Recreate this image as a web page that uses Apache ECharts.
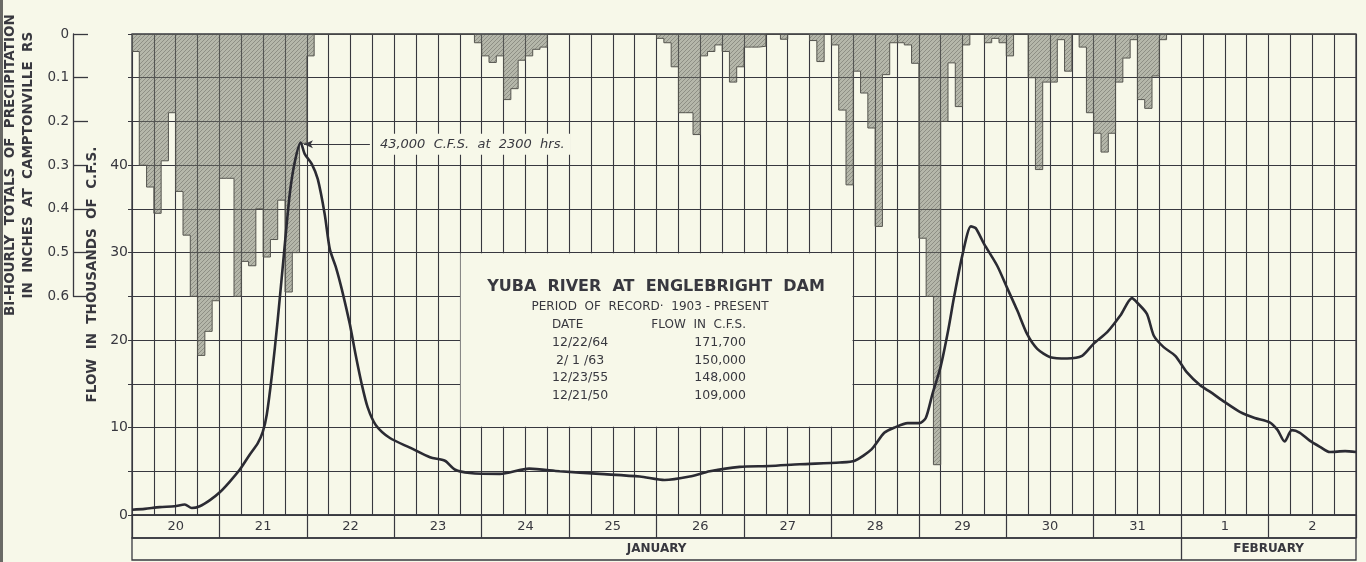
<!DOCTYPE html>
<html>
<head>
<meta charset="utf-8">
<script src="https://cdn.jsdelivr.net/npm/echarts@6/dist/echarts.min.js"></script>
<style>
  html, body { margin: 0; padding: 0; background: #f7f8e9; }
  #main { width: 1366px; height: 562px; }
</style>
</head>
<body>
<div id="main"></div>
<script>
// day cells under the plot
const dayLabels = ['20', '21', '22', '23', '24', '25', '26', '27', '28', '29', '30', '31', '1', '2']
const monthLabels = ['JANUARY', 'FEBRUARY']

// flow, thousands of c.f.s., hours counted from Jan 20 00:00
const flowHours = [0, 3.5, 7.6, 11.7, 14.5, 16.4, 18.6, 21.4, 24.1, 26.8,
  29.6, 32.3, 34.5, 35.9, 37, 38.4, 40, 41.7, 43.3, 44.7,
  46.3, 47.4, 49.4, 51, 52.9, 54.3, 56, 57.6, 59.8, 61.4,
  63.1, 64.7, 66.9, 70.8, 76.3, 81.8, 85.9, 88.6, 92.7, 101,
  109, 117.4, 128.4, 139.4, 146.2, 153.1, 158.6, 166.8, 175, 183.3,
  194.3, 198.4, 203, 206.5, 209.3, 212.9, 216.1, 217.9, 219.7, 222,
  224, 225.7, 228, 230.3, 231.6, 233.9, 237.5, 240.2, 243, 245.7,
  248.5, 252.1, 256.7, 260.8, 264, 267.7, 271.3, 274.5, 275.9, 278.6,
  280.5, 283.2, 286.4, 289.6, 293.3, 295.9, 300, 304.1, 308.2, 312.3,
  314.5, 316.4, 318.4, 320.6, 323.3, 326.1, 328.8, 333, 336]
const flowValues = [0.6, 0.7, 0.9, 1.0, 1.2, 0.8, 1.0, 1.7, 2.6, 3.8,
  5.2, 6.9, 8.2, 9.5, 11.5, 16, 22.3, 29.8, 36.7, 40.4,
  42.6, 41.3, 40.1, 38.4, 34.4, 30.4, 28.3, 25.8, 21.8, 18.3,
  14.9, 12.3, 10.3, 8.8, 7.7, 6.6, 6.2, 5.2, 4.8, 4.7,
  5.3, 5.0, 4.7, 4.4, 4.0, 4.4, 5.0, 5.5, 5.6, 5.8,
  6.0, 6.2, 7.5, 9.4, 10.0, 10.5, 10.5, 11.1, 13.8, 17.0,
  21.0, 25.0, 29.8, 33.0, 32.8, 31.0, 28.5, 26.0, 23.4, 20.7,
  19.0, 18.05, 17.9, 18.2, 19.6, 20.9, 22.8, 24.8, 24.3, 23.0,
  20.5, 19.2, 18.2, 16.3, 14.8, 14.1, 12.9, 11.8, 11.1, 10.6,
  9.7, 8.4, 9.7, 9.4, 8.5, 7.8, 7.2, 7.3, 7.2]

// bi-hourly precipitation, inches, 12 values per day
const rainJan20 = [0.04, 0.30, 0.35, 0.41, 0.29, 0.18, 0.36, 0.46, 0.60, 0.735, 0.68, 0.61]
const rainJan21 = [0.33, 0.33, 0.60, 0.52, 0.53, 0.40, 0.51, 0.47, 0.38, 0.59, 0.50, 0.25]
const rainJan22 = [0.05, 0, 0, 0, 0, 0, 0, 0, 0, 0, 0, 0]
const rainJan23 = [0, 0, 0, 0, 0, 0, 0, 0, 0, 0, 0, 0.02]
const rainJan24 = [0.05, 0.065, 0.05, 0.15, 0.125, 0.06, 0.05, 0.035, 0.03, 0, 0, 0]
const rainJan25 = [0, 0, 0, 0, 0, 0, 0, 0, 0, 0, 0, 0]
const rainJan26 = [0.01, 0.02, 0.075, 0.18, 0.18, 0.23, 0.05, 0.04, 0.025, 0.04, 0.11, 0.075]
const rainJan27 = [0.03, 0.03, 0.028, 0, 0, 0.012, 0, 0, 0, 0.015, 0.063, 0]
const rainJan28 = [0.025, 0.174, 0.345, 0.085, 0.135, 0.215, 0.44, 0.093, 0.02, 0.02, 0.025, 0.067]
const rainJan29 = [0.467, 0.60, 0.985, 0.20, 0.066, 0.166, 0.025, 0, 0, 0.02, 0.01, 0.02]
const rainJan30 = [0.05, 0, 0, 0.10, 0.31, 0.11, 0.11, 0.013, 0.085, 0, 0.03, 0.18]
const rainJan31 = [0.227, 0.27, 0.227, 0.11, 0.055, 0.013, 0.15, 0.17, 0.096, 0.013, 0, 0]
const rainFeb1 = [0, 0, 0, 0, 0, 0, 0, 0, 0, 0, 0, 0]
const rainFeb2 = [0, 0, 0, 0, 0, 0, 0, 0, 0, 0, 0, 0]

// record table in the box
const recordDates = ['12/22/64', ' 2/ 1 /63', '12/23/55', '12/21/50']
const recordFlows = ['171,700', '150,000', '148,000', '109,000']

const ink = '#38383f'
const paper = '#f7f8e9'
const font = 'DejaVu Sans'

const rain = [].concat(rainJan20, rainJan21, rainJan22, rainJan23, rainJan24, rainJan25, rainJan26,
  rainJan27, rainJan28, rainJan29, rainJan30, rainJan31, rainFeb1, rainFeb2)
const rainData = rain.map((v, i) => [i * 2, v])
rainData.push([rain.length * 2, rain[rain.length - 1]])
const flowData = flowHours.map((h, i) => [h, flowValues[i]])

// hatched grey fill for the rain bars
function hatch() {
  const c = document.createElement('canvas')
  c.width = 4
  c.height = 4
  const g = c.getContext('2d')
  g.fillStyle = 'rgba(115,117,108,0.5)'
  g.fillRect(0, 0, 4, 4)
  g.strokeStyle = 'rgba(70,70,66,0.45)'
  g.lineWidth = 0.8
  g.beginPath()
  g.moveTo(0, 4); g.lineTo(4, 0)
  g.moveTo(-1, 1); g.lineTo(1, -1)
  g.moveTo(3, 5); g.lineTo(5, 3)
  g.stroke()
  return c
}

const chart = echarts.init(document.getElementById('main'))

const tableTexts = [
  { text: 'YUBA  RIVER  AT  ENGLEBRIGHT  DAM', x: 656, y: 287, font: 'bold 16px ' + font, align: 'center' },
  { text: 'PERIOD  OF  RECORD·  1903 - PRESENT', x: 650, y: 307, font: '12px ' + font, align: 'center' },
  { text: 'DATE', x: 552, y: 325, font: '12px ' + font, align: 'left' },
  { text: 'FLOW  IN  C.F.S.', x: 746, y: 325, font: '12px ' + font, align: 'right' }
]
recordDates.forEach((d, i) => {
  tableTexts.push({ text: d, x: 552, y: 343 + i * 17.5, font: '12.5px ' + font, align: 'left' })
  tableTexts.push({ text: recordFlows[i], x: 746, y: 343 + i * 17.5, font: '12.5px ' + font, align: 'right' })
})

const option = {
  backgroundColor: paper,
  animation: false,
  textStyle: { fontFamily: font },
  grid: [
    { left: 132, right: 10, top: 34, height: 481, show: true, borderColor: ink, borderWidth: 1.3 },
    { left: 132, right: 10, top: 515, height: 23, show: true, borderColor: ink, borderWidth: 1.3 },
    { left: 132, right: 10, top: 538, height: 22, show: true, borderColor: ink, borderWidth: 1.3 },
    { left: 71, top: 34, width: 2, height: 262.4, show: false }
  ],
  xAxis: [
    {
      type: 'value', gridIndex: 0, min: 0, max: 336, interval: 6,
      axisLine: { show: false }, axisTick: { show: false }, axisLabel: { show: false },
      splitLine: { show: true, lineStyle: { color: ink, width: 1.1 } }
    },
    {
      type: 'category', gridIndex: 1, data: dayLabels, boundaryGap: true,
      axisLine: { show: false }, axisTick: { show: false },
      splitLine: { show: true, lineStyle: { color: ink, width: 1.2 } },
      axisLabel: { inside: true, margin: 5, color: ink, fontSize: 13, interval: 0 }
    },
    {
      type: 'value', gridIndex: 2, min: 0, max: 14, interval: 1,
      axisLine: { show: false }, axisTick: { show: false }, splitLine: { show: false },
      axisLabel: {
        inside: true, margin: 5, color: ink, fontSize: 12, fontWeight: 'bold',
        formatter: v => v === 6 ? monthLabels[0] : (v === 13 ? monthLabels[1] : '')
      }
    },
    { type: 'value', gridIndex: 3, show: false }
  ],
  yAxis: [
    {
      type: 'value', gridIndex: 0, min: 0, max: 55, interval: 5,
      axisLine: { show: false },
      axisTick: { show: true, length: 4, lineStyle: { color: ink } },
      axisLabel: {
        color: ink, fontSize: 14, margin: 4,
        formatter: v => (v % 10 === 0 && v <= 40) ? String(v) : ''
      },
      splitLine: { show: true, lineStyle: { color: ink, width: 1.1 } },
      name: 'FLOW  IN  THOUSANDS  OF  C.F.S.', nameLocation: 'middle', nameGap: 26,
      nameTextStyle: { color: ink, fontSize: 13.5, fontWeight: 'bold' }
    },
    { type: 'value', gridIndex: 0, min: 0, max: 1.1, inverse: true, show: false },
    { type: 'value', gridIndex: 1, show: false },
    { type: 'value', gridIndex: 2, min: 0, max: 1, show: false },
    {
      type: 'value', gridIndex: 3, min: 0, max: 0.6, interval: 0.1, inverse: true,
      axisLine: { show: true, lineStyle: { color: ink, width: 1.3 } },
      axisTick: { show: true, inside: true, length: 15, lineStyle: { color: ink, width: 1.3 } },
      splitLine: { show: false },
      axisLabel: { color: ink, fontSize: 13.5, margin: 4, formatter: v => v === 0 ? '0' : v.toFixed(1) },
      name: 'BI-HOURLY  TOTALS  OF  PRECIPITATION\nIN  INCHES  AT  CAMPTONVILLE  RS',
      nameLocation: 'middle', nameGap: 36,
      nameTextStyle: { color: ink, fontSize: 13.5, fontWeight: 'bold', lineHeight: 18 }
    }
  ],
  series: [
    {
      name: 'precipitation', type: 'line', xAxisIndex: 0, yAxisIndex: 1,
      data: rainData, step: 'end', symbol: 'none', silent: true,
      lineStyle: { color: '#55554f', width: 1 },
      areaStyle: { origin: 'start', color: { image: hatch(), repeat: 'repeat' }, opacity: 1 },
      z: 2
    },
    {
      name: 'flow', type: 'line', xAxisIndex: 0, yAxisIndex: 0,
      data: flowData, smooth: 0.25, symbol: 'none', silent: true,
      lineStyle: { color: '#2b2b33', width: 2.6 },
      z: 5,
      markLine: {
        silent: true, symbol: ['arrow', 'none'], symbolSize: [6, 9],
        lineStyle: { color: ink, width: 1.2, type: 'solid' },
        label: {
          position: 'end', distance: 4, formatter: '43,000  C.F.S.  at  2300  hrs.',
          fontStyle: 'italic', fontSize: 13, color: ink,
          backgroundColor: paper, padding: [4, 6]
        },
        data: [[{ coord: [47.2, 42.4] }, { coord: [65.3, 42.4] }]]
      },
      markArea: {
        silent: true, itemStyle: { color: paper },
        data: [[{ coord: [90.2, 10.08] }, { coord: [197.8, 29.92] }]]
      }
    },
    { type: 'line', xAxisIndex: 1, yAxisIndex: 2, data: [] },
    {
      type: 'line', xAxisIndex: 2, yAxisIndex: 3, data: [[0, 0]], symbol: 'none',
      lineStyle: { opacity: 0 },
      markLine: {
        silent: true, symbol: 'none', label: { show: false },
        lineStyle: { color: ink, width: 1.3, type: 'solid' },
        data: [{ xAxis: 12 }]
      }
    }
  ],
  graphic: [
    { type: 'rect', left: 0, top: 0, shape: { width: 3, height: 562 }, style: { fill: '#6a6a66' } }
  ].concat(tableTexts.map(t => ({
    type: 'text', z: 100,
    style: { text: t.text, x: t.x, y: t.y, font: t.font, fill: ink, textAlign: t.align, textVerticalAlign: 'middle' }
  })))
}

chart.setOption(option)
</script>
</body>
</html>
